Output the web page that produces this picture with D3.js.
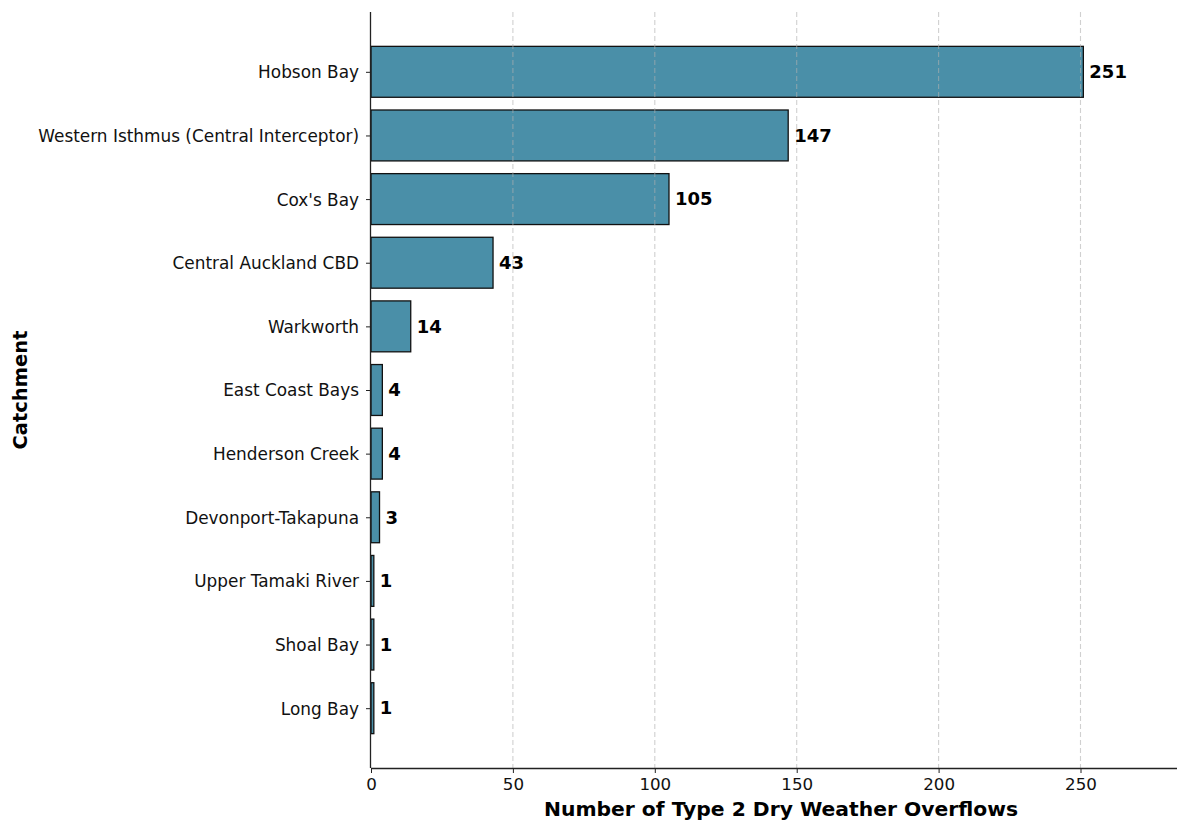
<!DOCTYPE html>
<html><head><meta charset="utf-8">
<script src="https://cdn.jsdelivr.net/npm/d3@7"></script>
<style>body{margin:0;background:#fff;} text{font-family:"DejaVu Sans",sans-serif;}</style>
</head><body><svg id="c" width="1178" height="822"></svg>
<script>
const categories = ["Hobson Bay","Western Isthmus (Central Interceptor)","Cox's Bay","Central Auckland CBD","Warkworth","East Coast Bays","Henderson Creek","Devonport-Takapuna","Upper Tamaki River","Shoal Bay","Long Bay"];
const values = [251,147,105,43,14,4,4,3,1,1,1];
const xTicks = [0,50,100,150,200,250];
const xLabel = "Number of Type 2 Dry Weather Overflows";
const yLabel = "Catchment";

const svg = d3.select("#c");
const L=371, R=1177, T=12, B=768;
const x = d3.scaleLinear().domain([0,284]).range([L,R]);
const n = categories.length;
const y = d3.scaleLinear().domain([-0.94, n-1+0.94]).range([T,B]);
const bh = (y(0.4)-y(-0.4));

// bars
svg.append("g").selectAll("rect").data(values).join("rect")
  .attr("x", x(0)).attr("y",(d,i)=>y(i)-bh/2)
  .attr("width", d=>x(d)-x(0)).attr("height", bh)
  .attr("fill","#4a8fa8").attr("stroke","#111").attr("stroke-width",1.3);

// grid on top
svg.append("g").selectAll("line").data(xTicks.filter(d=>d>0)).join("line")
  .attr("x1",d=>x(d)).attr("x2",d=>x(d)).attr("y1",T).attr("y2",B)
  .attr("stroke","#b0b0b0").attr("stroke-opacity",0.6).attr("stroke-dasharray","5,3").attr("stroke-width",1.1);

// x axis
const xa = svg.append("g").attr("transform",`translate(0,${B})`)
  .call(d3.axisBottom(x).tickValues(xTicks).tickSize(5).tickPadding(5));
xa.select(".domain").attr("d",`M${L},0.5H${R}`).attr("stroke","#222").attr("stroke-width",1.3);
xa.selectAll("line").attr("stroke","#222");
xa.selectAll("text").attr("font-size",16.7).attr("font-family","DejaVu Sans").attr("fill","#111");

// y axis
const ya = svg.append("g").attr("transform",`translate(${L},0)`)
  .call(d3.axisLeft(y).tickValues(d3.range(n)).tickFormat(i=>categories[i]).tickSize(5).tickPadding(7));
ya.select(".domain").attr("d",`M-0.5,${T}V${B}`).attr("stroke","#222").attr("stroke-width",1.3);
ya.selectAll("line").attr("stroke","#222");
ya.selectAll("text").attr("font-size",16.9).attr("font-family","DejaVu Sans").attr("fill","#111").attr("dy","0.35em");

// value labels
svg.append("g").selectAll("text").data(values).join("text")
  .attr("x",d=>x(d)+6).attr("y",(d,i)=>y(i)).attr("dy","0.35em")
  .attr("font-size",18).attr("font-weight","bold").attr("fill","#000").text(d=>d);

// axis labels
svg.append("text").attr("x",781).attr("y",816).attr("text-anchor","middle")
  .attr("font-size",20.3).attr("font-weight","bold").text(xLabel);
svg.append("text").attr("transform",`translate(27,${(T+B)/2}) rotate(-90)`).attr("text-anchor","middle")
  .attr("font-size",19.5).attr("font-weight","bold").text(yLabel);
</script></body></html>
